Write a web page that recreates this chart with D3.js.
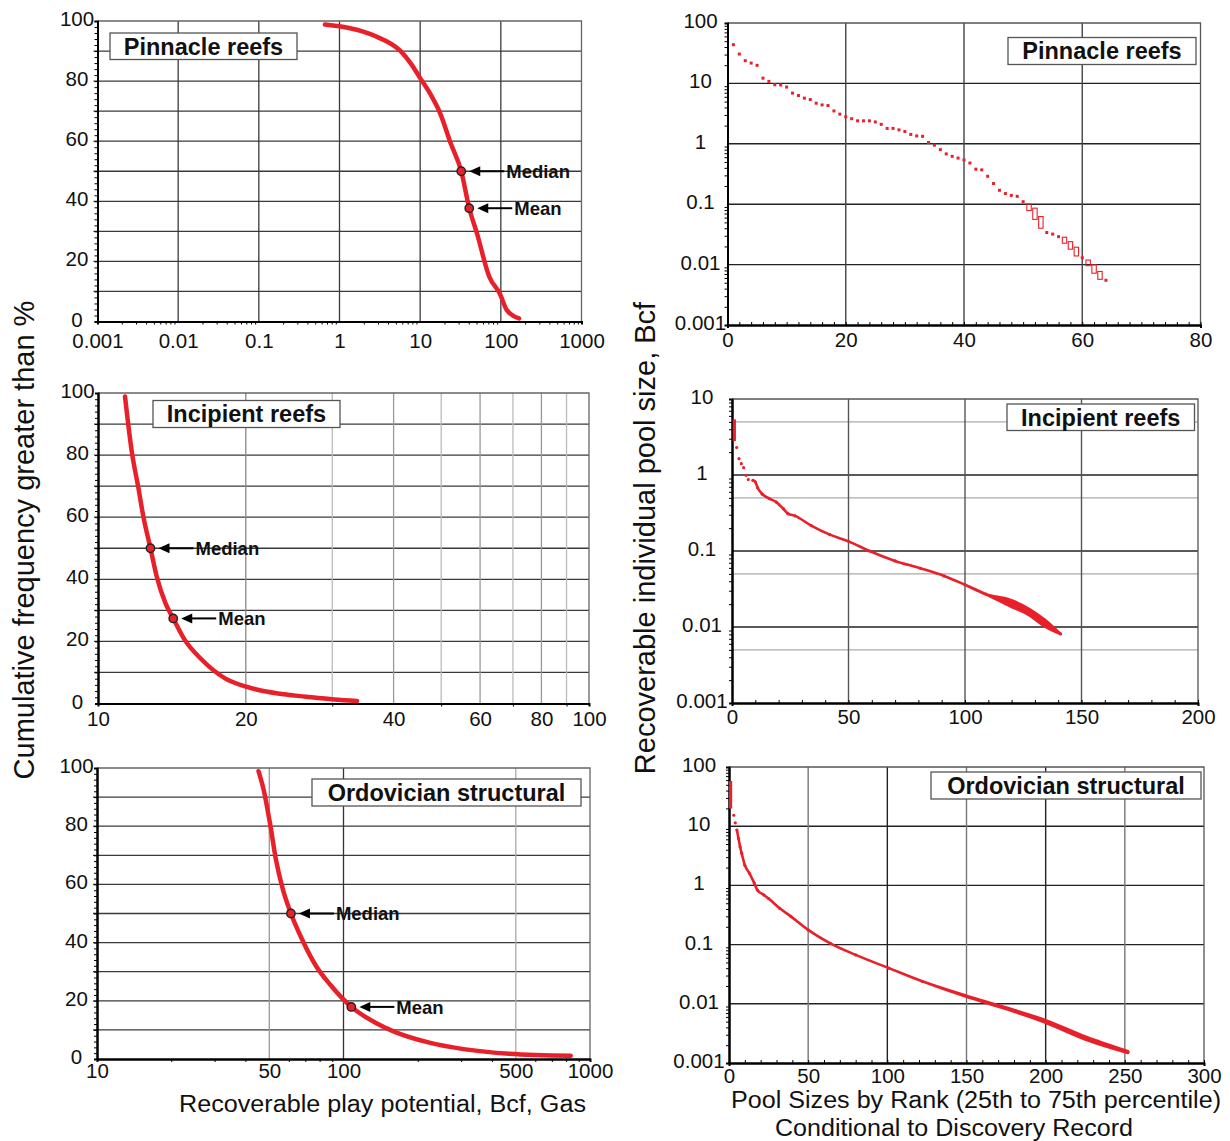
<!DOCTYPE html>
<html><head><meta charset="utf-8">
<script src="https://cdn.jsdelivr.net/npm/d3@7"></script>
<style>
body{margin:0;background:#fff}
svg{display:block}
text{font-family:"Liberation Sans",Arial,Helvetica,sans-serif;fill:#111}
</style>
</head><body>
<svg id="c" width="1230" height="1141"></svg>
<script>
// ---------------- DATA ----------------
// Left column: cumulative frequency (%) vs recoverable play potential (Bcf)
const pinnacleCumX = [0.66, 2.76, 5.6, 7.6, 10, 13.9, 17.7, 23.9, 32.3, 40.6, 50.6, 71.9, 97, 118.6, 168];
const pinnacleCumY = [98.8, 95, 90.2, 86, 81, 74.9, 69.3, 59.3, 50, 37.7, 29.3, 14.9, 9.3, 3.8, 1];
const pinnacleStats = [["Median", 32.3, 50], ["Mean", 40.6, 37.7]];

const incipientCumX = [11.35, 11.73, 12.07, 12.37, 12.79, 13.17, 13.72, 14.23, 15.03, 16.18, 18.15, 20.04, 23.26, 26.54, 30.27, 33.7];
const incipientCumY = [98.9, 80.6, 69.9, 60.2, 50, 40.9, 32.3, 27.4, 20.4, 14.5, 8.1, 5.4, 3.2, 2.2, 1.3, 0.8];
const incipientStats = [["Median", 12.79, 50], ["Mean", 14.23, 27.4]];

const ordovicianCumX = [45.2, 47.4, 50.3, 53.2, 56.8, 61.2, 68, 77.6, 88.4, 107.6, 135.4, 159.5, 221, 307, 471, 835];
const ordovicianCumY = [98.9, 92.6, 81.1, 68.5, 58.2, 50, 41, 31.8, 25.5, 17.9, 12.4, 9.5, 5.7, 3.4, 1.8, 1.1];
const ordovicianStats = [["Median", 61.2, 50], ["Mean", 107.6, 17.9]];

const cumYTicks = [0, 20, 40, 60, 80, 100];
const pinnacleXTicks = [0.001, 0.01, 0.1, 1, 10, 100, 1000];
const incipientXTicks = [10, 20, 40, 60, 80, 100];
const ordovicianXTicks = [10, 50, 100, 500, 1000];

// Right column: recoverable individual pool size (Bcf) by rank; low/high = 25th/75th percentile
const pinnacleLow  = [43.7,30.6,23.8,21.7,19.9,12.2,10.8,9.5,9.4,8.7,6.9,6.3,5.7,5.4,4.7,4.4,4.3,3.5,3.1,2.8,2.6,2.4,2.4,2.4,2.3,2.1,1.8,1.8,1.7,1.6,1.43,1.35,1.33,1.05,0.95,0.8,0.68,0.62,0.58,0.54,0.48,0.38,0.37,0.29,0.22,0.17,0.15,0.14,0.135,0.11,0.0785,0.056,0.040,0.034,0.032,0.029,0.0226,0.018,0.0139,0.013,0.0096,0.0072,0.0057,0.0055];
const pinnacleHigh = [43.7,30.6,23.8,21.7,19.9,12.2,10.8,9.5,9.4,8.7,6.9,6.3,5.7,5.4,4.7,4.4,4.3,3.5,3.1,2.8,2.6,2.4,2.4,2.4,2.3,2.1,1.8,1.8,1.7,1.6,1.43,1.35,1.33,1.05,0.95,0.8,0.68,0.62,0.58,0.54,0.48,0.38,0.37,0.29,0.22,0.17,0.15,0.14,0.135,0.11,0.101,0.086,0.0625,0.034,0.032,0.029,0.0284,0.024,0.0194,0.013,0.0119,0.0099,0.0077,0.0055];

const incipientRank = [1,2,3,4,5,6,7,9,10,11,13,16,19,22,24,27,34,42,50,59,70,81,91,100,109,119,128,134,141];
const incipientLow  = [2.8,2.3,1.64,1.41,1.25,0.99,0.87,0.85,0.81,0.68,0.56,0.49,0.44,0.36,0.31,0.29,0.216,0.164,0.134,0.10,0.074,0.059,0.047,0.036,0.027,0.019,0.014,0.0103,0.0081];
const incipientHigh = [5.4,2.3,1.64,1.41,1.25,0.99,0.87,0.85,0.81,0.68,0.56,0.49,0.44,0.36,0.31,0.29,0.216,0.164,0.134,0.10,0.074,0.059,0.047,0.036,0.027,0.023,0.017,0.0126,0.0081];

const ordRank = [1,3,4,5,6,7,8,10,13,16,18,22,25,32,39,50,64,80,101,122,150,174,200,225,252];
const ordLow  = [19.9,15.3,11.4,8.6,6.2,4.5,3.5,2.2,1.59,1.08,0.83,0.69,0.60,0.41,0.30,0.177,0.105,0.067,0.040,0.024,0.0131,0.0083,0.0048,0.0025,0.00148];
const ordHigh = [58,15.3,11.4,8.6,6.2,4.5,3.5,2.2,1.59,1.08,0.83,0.69,0.60,0.41,0.30,0.177,0.105,0.067,0.040,0.024,0.0137,0.0088,0.0053,0.0028,0.00158];

const logYTicks = [0.001, 0.01, 0.1, 1, 10, 100];
const pinnacleRankTicks = [0, 20, 40, 60, 80];
const incipientRankTicks = [0, 50, 100, 150, 200];
const ordRankTicks = [0, 50, 100, 150, 200, 250, 300];

const titles = ["Pinnacle reefs", "Incipient reefs", "Ordovician structural"];

// ---------------- DRAW ----------------
const svg = d3.select('#c');
const RED = '#e8202a';
const TICKFONT = 20.5;

function styleAxis(a, labels) {
  a.select('.domain').attr('stroke', '#000').attr('stroke-width', 2);
  a.selectAll('.tick line').attr('stroke', '#000');
  a.selectAll('text').attr('font-size', TICKFONT).attr('fill', '#111');
  if (!labels) a.selectAll('text').remove();
}

// y labels in the reference are centred in a column left of the axis
function centreYLabels(a, offset) {
  a.selectAll('.tick text').attr('text-anchor', 'middle').attr('x', -offset).attr('dy', '0.22em');
}

function titleBox(g, t, b) {
  g.append('rect').attr('x', b[0]).attr('y', b[1]).attr('width', b[2]).attr('height', b[3])
    .attr('fill', '#fff').attr('stroke', '#555').attr('stroke-width', 1.3);
  g.append('text').attr('x', b[0] + b[2] / 2).attr('y', b[1] + b[3] / 2).attr('dy', '0.36em')
    .attr('text-anchor', 'middle').attr('font-size', 23.5).attr('font-weight', 'bold').text(t);
}

function leftPanel(c) {
  const x = d3.scaleLog().domain(c.xDomain).range([c.x0, c.x1]);
  const y = d3.scaleLinear().domain([0, 100]).range([c.y1, c.y0]);
  const g = svg.append('g');
  g.selectAll(null).data(d3.range(10, 100, 10)).join('line')
    .attr('x1', c.x0 - 4).attr('x2', c.x1).attr('y1', d => y(d)).attr('y2', d => y(d))
    .attr('stroke', '#3a3a3a').attr('stroke-width', 1.3);
  g.selectAll(null).data(c.vGrid).join('line')
    .attr('x1', d => x(d[0])).attr('x2', d => x(d[0])).attr('y1', c.y0).attr('y2', c.y1)
    .attr('stroke', d => d[1]).attr('stroke-width', 1.3);
  g.append('path').attr('d', `M${c.x0},${c.y0}H${c.x1}V${c.y1}`).attr('fill', 'none')
    .attr('stroke', '#666').attr('stroke-width', 1.3);
  const ym = g.append('g').attr('transform', `translate(${c.x0},0)`)
    .call(d3.axisLeft(y).tickValues(d3.range(0, 101, 2)).tickSize(3).tickFormat(''));
  styleAxis(ym, false);
  const ya = g.append('g').attr('transform', `translate(${c.x0},0)`)
    .call(d3.axisLeft(y).tickValues(cumYTicks).tickSize(0).tickPadding(4));
  styleAxis(ya, true);
  centreYLabels(ya, 20.5);
  const xm = g.append('g').attr('transform', `translate(0,${c.y1})`)
    .call(d3.axisBottom(x).tickValues(c.xMinor).tickSize(3).tickFormat(''));
  styleAxis(xm, false);
  const xa = g.append('g').attr('transform', `translate(0,${c.y1})`)
    .call(d3.axisBottom(x).tickValues(c.xTicks).tickSize(0).tickPadding(c.xPad).tickFormat(d => String(d)));
  styleAxis(xa, true);
  const pts = c.cx.map((v, i) => [v, c.cy[i]]);
  g.append('path').datum(pts)
    .attr('d', d3.line().x(d => x(d[0])).y(d => y(d[1])).curve(d3.curveMonotoneX))
    .attr('fill', 'none').attr('stroke', RED).attr('stroke-width', 4.5).attr('stroke-linecap', 'round');
  c.stats.forEach(s => {
    const px = x(s[1]), py = y(s[2]);
    g.append('circle').attr('cx', px).attr('cy', py).attr('r', 4.2)
      .attr('fill', RED).attr('stroke', '#222').attr('stroke-width', 1.4);
    const tip = px + 8, tail = px + 43;
    g.append('line').attr('x1', tip + 8).attr('x2', tail).attr('y1', py).attr('y2', py)
      .attr('stroke', '#000').attr('stroke-width', 2);
    g.append('path').attr('d', `M${tip},${py}L${tip + 11},${py - 5}L${tip + 11},${py + 5}Z`).attr('fill', '#000');
    g.append('text').attr('x', tail + 2).attr('y', py).attr('dy', '0.36em')
      .attr('font-size', 18.5).attr('font-weight', 'bold').attr('fill', '#222').text(s[0]);
  });
  titleBox(g, c.title, c.box);
}

function rightPanel(c) {
  const x = d3.scaleLinear().domain(c.xDomain).range([c.x0, c.x1]);
  const y = d3.scaleLog().domain(c.yDomain).range([c.y1, c.y0]);
  const g = svg.append('g');
  if (c.halfGrid) {
    g.selectAll(null).data(c.halfGrid).join('line')
      .attr('x1', c.x0).attr('x2', c.x1).attr('y1', d => y(d)).attr('y2', d => y(d))
      .attr('stroke', '#aaa').attr('stroke-width', 1.2);
  }
  g.selectAll(null).data(c.hGrid).join('line')
    .attr('x1', c.x0).attr('x2', c.x1).attr('y1', d => y(d)).attr('y2', d => y(d))
    .attr('stroke', '#222').attr('stroke-width', 1.4);
  g.selectAll(null).data(c.vGrid).join('line')
    .attr('x1', d => x(d[0])).attr('x2', d => x(d[0])).attr('y1', c.y0).attr('y2', c.y1)
    .attr('stroke', d => d[1]).attr('stroke-width', 1.4);
  g.append('path').attr('d', `M${c.x0},${c.y0}H${c.x1}V${c.y1}`).attr('fill', 'none')
    .attr('stroke', '#555').attr('stroke-width', 1.3);
  const minors = [];
  const lo = Math.round(Math.log10(c.yDomain[0])), hi = Math.round(Math.log10(c.yDomain[1]));
  for (let e = lo; e < hi; e++) for (let m = 2; m <= 9; m++) minors.push(m * Math.pow(10, e));
  const ym = g.append('g').attr('transform', `translate(${c.x0},0)`)
    .call(d3.axisLeft(y).tickValues(minors).tickSize(3).tickFormat(''));
  styleAxis(ym, false);
  const ya = g.append('g').attr('transform', `translate(${c.x0},0)`)
    .call(d3.axisLeft(y).tickValues(c.yTicks).tickSize(0).tickPadding(7).tickFormat(d => String(d)));
  styleAxis(ya, true);
  centreYLabels(ya, c.yLabelOffset);
  const xm = g.append('g').attr('transform', `translate(0,${c.y1})`)
    .call(d3.axisBottom(x).tickValues(d3.range(c.xDomain[0], c.xDomain[1] + 0.001, c.xMinorStep)).tickSize(3).tickFormat(''));
  styleAxis(xm, false);
  xm.selectAll('.tick line').attr('transform', 'translate(0,-3)');
  const xa = g.append('g').attr('transform', `translate(0,${c.y1})`)
    .call(d3.axisBottom(x).tickValues(c.xTicks).tickSize(0).tickPadding(c.xPad));
  styleAxis(xa, true);
  titleBox(g, c.title, c.box);
  return {g, x, y};
}

// ---------- Left column ----------
leftPanel({
  x0: 97.5, x1: 581.5, y0: 21, y1: 321.5, xDomain: [0.001, 1000],
  xTicks: pinnacleXTicks,
  xMinor: (() => { const a = []; for (let e = -3; e < 3; e++) for (let m = 2; m <= 9; m++) a.push(m * Math.pow(10, e)); return a; })(),
  vGrid: [[0.01, '#3a3a3a'], [0.1, '#3a3a3a'], [1, '#3a3a3a'], [10, '#3a3a3a'], [100, '#3a3a3a']],
  xPad: 11.5, cx: pinnacleCumX, cy: pinnacleCumY, stats: pinnacleStats,
  title: titles[0], box: [110, 33, 187, 26.5]
});
leftPanel({
  x0: 98, x1: 589, y0: 393, y1: 703.5, xDomain: [10, 100],
  xTicks: incipientXTicks,
  xMinor: [30, 50, 70, 90],
  vGrid: [[20, '#888'], [30, '#bbb'], [40, '#999'], [50, '#bbb'], [60, '#999'], [70, '#bbb'], [80, '#999'], [90, '#bbb']],
  xPad: 8, cx: incipientCumX, cy: incipientCumY, stats: incipientStats,
  title: titles[1], box: [153, 400.5, 187, 27]
});
leftPanel({
  x0: 97, x1: 590, y0: 768, y1: 1059, xDomain: [10, 1000],
  xTicks: ordovicianXTicks,
  xMinor: [20, 30, 40, 60, 70, 80, 90, 200, 300, 400, 600, 700, 800, 900],
  vGrid: [[50, '#999'], [100, '#333'], [500, '#aaa']],
  xPad: 4.5, cx: ordovicianCumX, cy: ordovicianCumY, stats: ordovicianStats,
  title: titles[2], box: [312, 779, 269, 27]
});

// ---------- Right column ----------
(function () {
  const p = rightPanel({
    x0: 727.5, x1: 1200.5, y0: 23, y1: 325, xDomain: [0, 80], yDomain: [0.001, 100],
    xTicks: pinnacleRankTicks, xMinorStep: 2, yTicks: logYTicks, xPad: 7, yLabelOffset: 27,
    hGrid: [0.01, 0.1, 1, 10], vGrid: [[20, '#444'], [40, '#444'], [60, '#444']],
    title: titles[0], box: [1008, 37.5, 188, 27]
  });
  const d = pinnacleLow.map((v, i) => ({r: i + 1, lo: v, hi: pinnacleHigh[i]}));
  p.g.selectAll(null).data(d.filter(e => e.hi === e.lo)).join('rect')
    .attr('x', e => p.x(e.r) - 1.5).attr('y', e => p.y(e.lo) - 1.5).attr('width', 3).attr('height', 3).attr('fill', RED);
  p.g.selectAll(null).data(d.filter(e => e.hi !== e.lo)).join('rect')
    .attr('x', e => p.x(e.r) - 2.2).attr('y', e => p.y(e.hi)).attr('width', 4.4)
    .attr('height', e => p.y(e.lo) - p.y(e.hi)).attr('fill', 'none').attr('stroke', RED).attr('stroke-width', 1.1);
})();

function bandSeries(p, rank, low, high, startRank) {
  const d = rank.map((r, i) => ({r, lo: low[i], hi: high[i]}));
  const f = d[0];
  p.g.append('rect').attr('x', p.x(f.r) - 1.6).attr('y', p.y(f.hi)).attr('width', 3.2)
    .attr('height', p.y(f.lo) - p.y(f.hi)).attr('fill', RED);
  p.g.selectAll(null).data(d.slice(1)).join('circle')
    .attr('cx', e => p.x(e.r)).attr('cy', e => p.y(Math.sqrt(e.lo * e.hi))).attr('r', 1.6).attr('fill', RED);
  const cont = d.filter(e => e.r >= startRank);
  p.g.append('path').datum(cont)
    .attr('d', d3.area().x(e => p.x(e.r)).y0(e => p.y(e.lo)).y1(e => p.y(e.hi)).curve(d3.curveMonotoneX))
    .attr('fill', RED).attr('stroke', RED).attr('stroke-width', 2.6).attr('stroke-linejoin', 'round');
}

(function () {
  const p = rightPanel({
    x0: 732, x1: 1198, y0: 399, y1: 703, xDomain: [0, 200], yDomain: [0.001, 10],
    xTicks: incipientRankTicks, xMinorStep: 10, yTicks: logYTicks.slice(0, 5), xPad: 6, yLabelOffset: 30,
    halfGrid: [5, 0.5, 0.05, 0.005],
    hGrid: [0.01, 0.1, 1], vGrid: [[50, '#555'], [100, '#555'], [150, '#555']],
    title: titles[1], box: [1007, 404, 187.5, 26.5]
  });
  bandSeries(p, incipientRank, incipientLow, incipientHigh, 9);
})();

(function () {
  const p = rightPanel({
    x0: 729, x1: 1204, y0: 767, y1: 1063, xDomain: [0, 300], yDomain: [0.001, 100],
    xTicks: ordRankTicks, xMinorStep: 10, yTicks: logYTicks, xPad: 5, yLabelOffset: 30,
    hGrid: [0.01, 0.1, 1, 10],
    vGrid: [[50, '#777'], [100, '#222'], [150, '#777'], [200, '#222'], [250, '#777']],
    title: titles[2], box: [931, 772, 270, 27]
  });
  bandSeries(p, ordRank, ordLow, ordHigh, 5);
})();

// ---------- Axis titles ----------
svg.append('text').attr('transform', 'translate(34,540) rotate(-90)').attr('text-anchor', 'middle')
  .attr('font-size', 29).text('Cumulative frequency greater than %');
svg.append('text').attr('transform', 'translate(655,538) rotate(-90)').attr('text-anchor', 'middle')
  .attr('font-size', 29).text('Recoverable individual pool size, Bcf');
svg.append('text').attr('x', 382.5).attr('y', 1112).attr('text-anchor', 'middle')
  .attr('font-size', 23).attr('textLength', 407).attr('lengthAdjust', 'spacingAndGlyphs')
  .text('Recoverable play potential, Bcf, Gas');
svg.append('text').attr('x', 976).attr('y', 1108).attr('text-anchor', 'middle')
  .attr('font-size', 23).attr('textLength', 490).attr('lengthAdjust', 'spacingAndGlyphs')
  .text('Pool Sizes by Rank (25th to 75th percentile)');
svg.append('text').attr('x', 954).attr('y', 1136).attr('text-anchor', 'middle')
  .attr('font-size', 23).attr('textLength', 358).attr('lengthAdjust', 'spacingAndGlyphs')
  .text('Conditional to Discovery Record');
</script>
</body></html>
